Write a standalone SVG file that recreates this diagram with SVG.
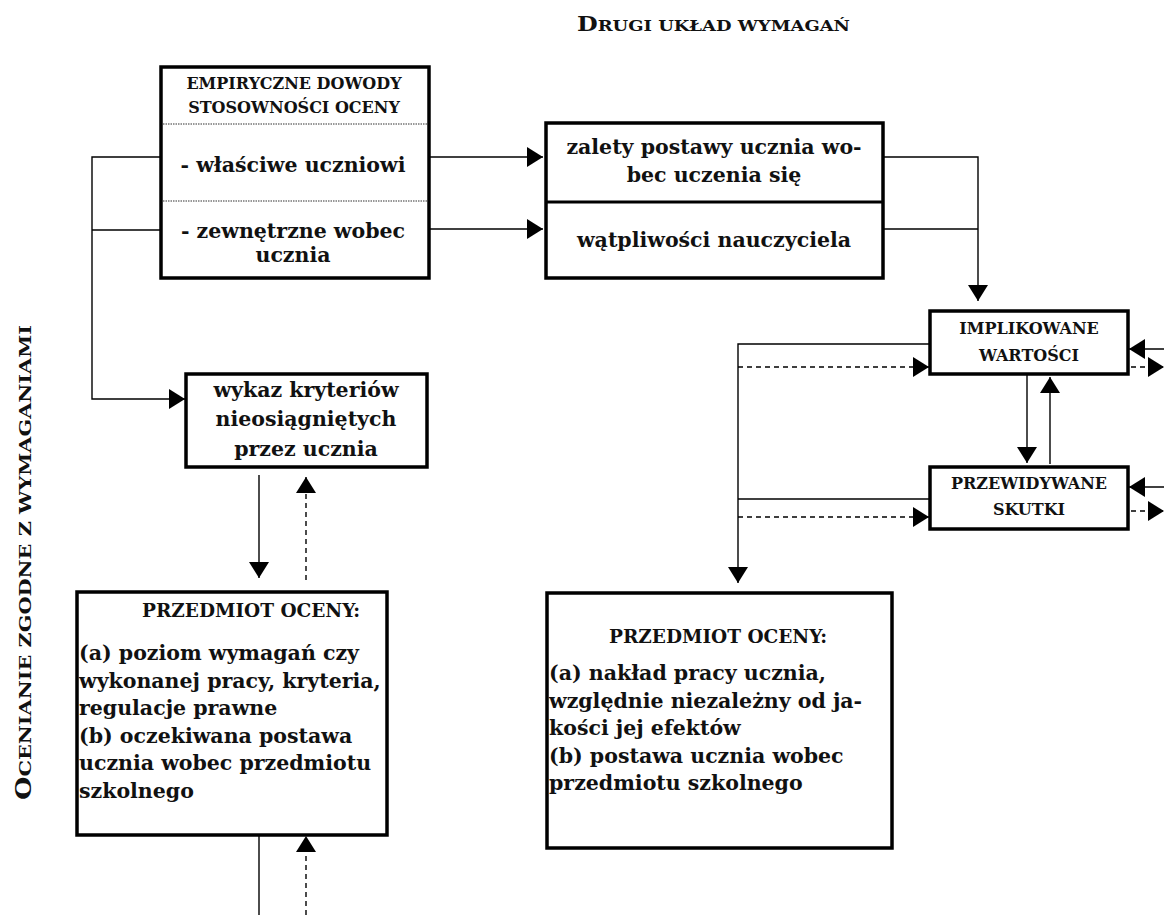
<svg xmlns="http://www.w3.org/2000/svg" width="1164" height="915" viewBox="0 0 1164 915">
<style>
.box{fill:#fff;stroke:#000;stroke-width:3.5}
.ln{fill:none;stroke:#000;stroke-width:1.4}
.dl{fill:none;stroke:#000;stroke-width:1.4;stroke-dasharray:5,4}
.sep{stroke:#777;stroke-width:1.5;stroke-dasharray:1.5,1}
text{font-family:"DejaVu Serif","Liberation Serif",serif;font-weight:bold;fill:#111}
.big{font-size:20.5px}
.sm{font-size:16px}
.hd{font-size:18.5px}
.c{text-anchor:middle}
</style>
<defs>
<marker id="ah" markerUnits="userSpaceOnUse" markerWidth="16" markerHeight="20" refX="16" refY="10" orient="auto">
<path d="M0,0 L16,10 L0,20 z" fill="#000"/>
</marker>
</defs>
<rect width="1164" height="915" fill="#fff"/>

<text x="577" y="31" font-size="15" textLength="273" lengthAdjust="spacingAndGlyphs"><tspan font-size="20">D</tspan>RUGI UKŁAD WYMAGAŃ</text>

<text transform="translate(31,800) rotate(-90)" font-size="17" textLength="475" lengthAdjust="spacingAndGlyphs"><tspan font-size="22">O</tspan>CENIANIE ZGODNE Z  WYMAGANIAMI</text>

<g id="connectors">
<path class="ln" d="M161,157 H92 V399 H185" marker-end="url(#ah)"/>
<path class="ln" d="M161,230 H92"/>
<path class="ln" d="M429,157 H543" marker-end="url(#ah)"/>
<path class="ln" d="M429,229 H543" marker-end="url(#ah)"/>
<path class="ln" d="M883,157 H978 V301" marker-end="url(#ah)"/>
<path class="ln" d="M883,229 H978"/>
<path class="ln" d="M929,344 H738 V583" marker-end="url(#ah)"/>
<path class="dl" d="M738,367 H929" marker-end="url(#ah)"/>
<path class="ln" d="M929,499 H738"/>
<path class="dl" d="M738,517 H929" marker-end="url(#ah)"/>
<path class="ln" d="M1027,374 V463" marker-end="url(#ah)"/>
<path class="ln" d="M1050,464 V377" marker-end="url(#ah)"/>
<path class="ln" d="M1164,349 H1129" marker-end="url(#ah)"/>
<path class="dl" d="M1122,367 H1164" marker-end="url(#ah)"/>
<path class="ln" d="M1164,487 H1129" marker-end="url(#ah)"/>
<path class="dl" d="M1122,511 H1164" marker-end="url(#ah)"/>
<path class="ln" d="M259,475 V578" marker-end="url(#ah)"/>
<path class="dl" d="M306,580 V477" marker-end="url(#ah)"/>
<path class="ln" d="M259,836 V915"/>
<path class="dl" d="M306,915 V836" marker-end="url(#ah)"/>
</g>

<g id="empiryczne">
<rect class="box" x="161" y="67" width="268" height="211"/>
<line class="sep" x1="163" y1="124" x2="427" y2="124"/>
<line class="sep" x1="163" y1="201" x2="427" y2="201"/>
<text class="sm c" x="294" y="89">EMPIRYCZNE DOWODY</text>
<text class="sm c" x="294" y="113">STOSOWNOŚCI OCENY</text>
<text class="big c" x="293" y="172">- właściwe uczniowi</text>
<text class="big c" x="293" y="238">- zewnętrzne wobec</text>
<text class="big c" x="293" y="262">ucznia</text>
</g>

<g id="zalety">
<rect class="box" x="546" y="123" width="337" height="155"/>
<line stroke="#000" stroke-width="3" x1="546" y1="202" x2="883" y2="202"/>
<text class="big c" x="714" y="154">zalety postawy ucznia wo-</text>
<text class="big c" x="714" y="182">bec uczenia się</text>
<text class="big c" x="714" y="247">wątpliwości nauczyciela</text>
</g>

<g id="implikowane">
<rect class="box" x="930" y="311" width="198" height="63"/>
<text class="sm c" x="1029" y="334">IMPLIKOWANE</text>
<text class="sm c" x="1029" y="361">WARTOŚCI</text>
</g>

<g id="przewidywane">
<rect class="box" x="930" y="467" width="198" height="62"/>
<text class="sm c" x="1029" y="489">PRZEWIDYWANE</text>
<text class="sm c" x="1029" y="515">SKUTKI</text>
</g>

<g id="wykaz">
<rect class="box" x="186" y="374" width="241" height="93"/>
<text class="big c" x="306" y="397">wykaz kryteriów</text>
<text class="big c" x="306" y="426">nieosiągniętych</text>
<text class="big c" x="306" y="456">przez ucznia</text>
</g>

<g id="przedmiot-lewy">
<rect class="box" x="77" y="592" width="310" height="243"/>
<text class="hd c" x="251" y="617">PRZEDMIOT OCENY:</text>
<text class="big" x="79" y="660">(a) poziom wymagań czy</text>
<text class="big" x="79" y="688">wykonanej pracy, kryteria,</text>
<text class="big" x="79" y="715">regulacje prawne</text>
<text class="big" x="79" y="743">(b) oczekiwana postawa</text>
<text class="big" x="79" y="770">ucznia wobec przedmiotu</text>
<text class="big" x="79" y="798">szkolnego</text>
</g>

<g id="przedmiot-prawy">
<rect class="box" x="547" y="593" width="345" height="255"/>
<text class="hd c" x="718" y="643">PRZEDMIOT OCENY:</text>
<text class="big" x="549" y="680">(a) nakład pracy ucznia,</text>
<text class="big" x="549" y="708">względnie niezależny od ja-</text>
<text class="big" x="549" y="735">kości jej efektów</text>
<text class="big" x="549" y="763">(b) postawa ucznia wobec</text>
<text class="big" x="549" y="790">przedmiotu szkolnego</text>
</g>
</svg>
